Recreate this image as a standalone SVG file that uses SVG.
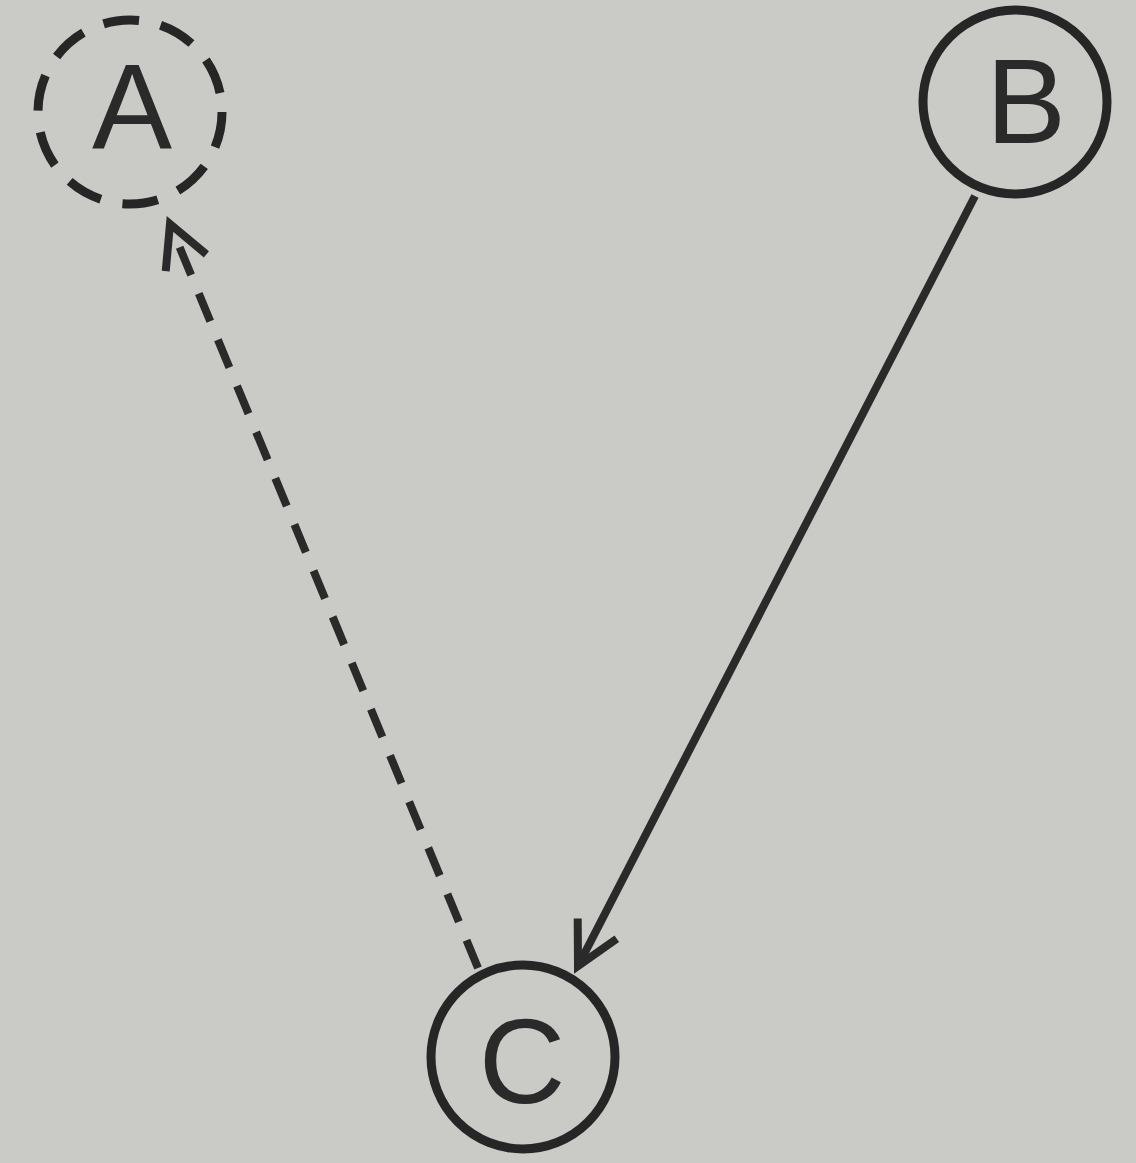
<svg xmlns="http://www.w3.org/2000/svg" width="1136" height="1163" viewBox="0 0 1136 1163">
<style>
.node{fill:none;stroke:#262626;stroke-width:9}
.dashed{stroke-dasharray:36 22}
.lbl{font-family:"Liberation Sans",Arial,sans-serif;font-size:120px;fill:#2a2a2a;text-anchor:middle}
.edge{fill:none;stroke:#2a2a2a;stroke-width:8}
</style>
<defs>
<marker id="arr" viewBox="-50 -30 60 60" refX="0" refY="0" markerWidth="60" markerHeight="60" markerUnits="userSpaceOnUse" orient="auto">
<path d="M-42,-22 L0,0 L-42,22" fill="none" stroke="#2a2a2a" stroke-width="8"/>
</marker>
</defs>
<rect width="1136" height="1163" fill="#cacac7"/>
<g id="edges">
<line class="edge" x1="478" y1="968" x2="170" y2="224" stroke-dasharray="30 20" marker-end="url(#arr)"/>
<line class="edge" x1="975" y1="196" x2="578" y2="966" marker-end="url(#arr)"/>
</g>
<g id="A">
<circle class="node dashed" cx="130" cy="112" r="92"/>
<text class="lbl" x="132" y="148">A</text>
</g>
<g id="B">
<circle class="node" cx="1015" cy="102" r="92"/>
<text class="lbl" x="1026" y="143">B</text>
</g>
<g id="C">
<circle class="node" cx="523" cy="1057" r="92"/>
<text class="lbl" x="522" y="1103">C</text>
</g>
</svg>
